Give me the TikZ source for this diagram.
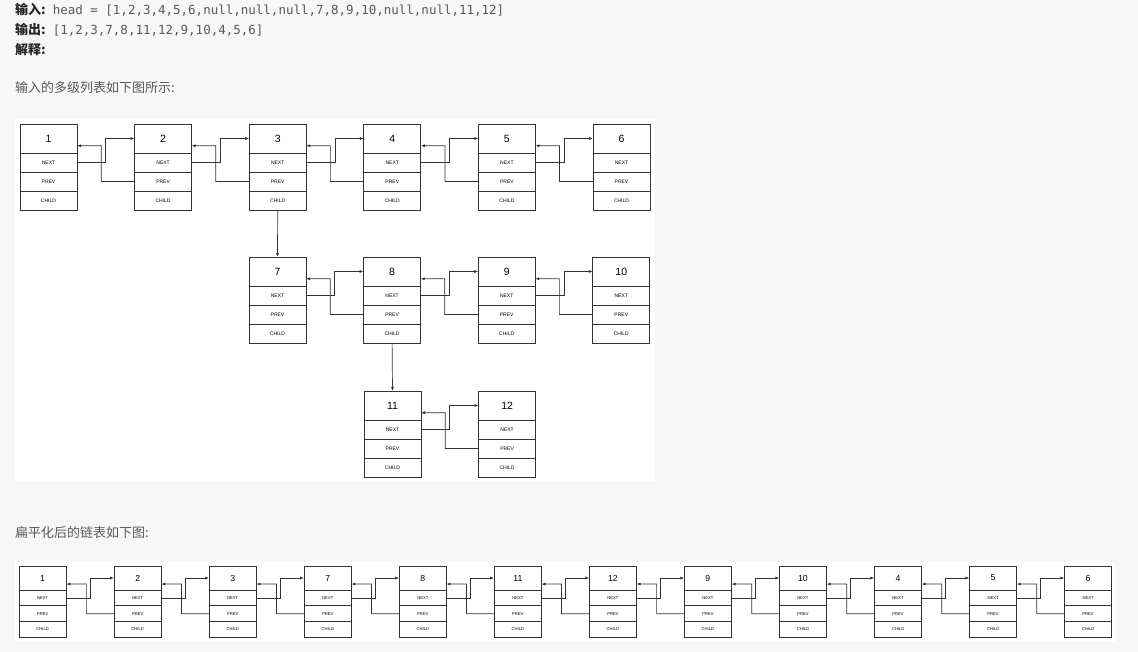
\documentclass[tikz,border=0pt]{standalone}
\usepackage{fontspec}
\setmainfont{Liberation Sans}
\setmonofont{DejaVu Sans Mono}
\newfontfamily\cjk{Noto Sans CJK SC}
\usetikzlibrary{positioning,calc,arrows.meta}

\definecolor{pagebg}{HTML}{F7F7F7}
\definecolor{textgray}{HTML}{595959}
\definecolor{textdark}{HTML}{262626}
\definecolor{cellline}{HTML}{333333}

\tikzset{
  headcell/.style={draw=cellline, line width=0.8pt, anchor=north west, minimum width=57pt,
    minimum height=29pt, inner sep=0pt, outer sep=0pt, font=\fontsize{10.5}{12}\selectfont},
  fieldcell/.style={draw=cellline, line width=0.8pt, minimum width=57pt,
    minimum height=19pt, inner sep=0pt, outer sep=0pt, font=\fontsize{5}{6}\selectfont},
  wire/.style={draw=cellline, line width=0.7pt, -{Latex[length=4pt,width=3pt]}},
  textline/.style={anchor=west, inner sep=0pt, font=\cjk\fontsize{13}{15}\selectfont},
}

% one list cell: header with value, then NEXT / PREV / CHILD
\newcommand{\lnode}[3]{%
  \node[headcell] (#1-h) at (#2) {#3};
  \node[fieldcell, below=0pt of #1-h] (#1-n) {NEXT};
  \node[fieldcell, below=0pt of #1-n] (#1-p) {PREV};
  \node[fieldcell, below=0pt of #1-p] (#1-c) {CHILD};
}

% next and prev links between two neighbouring cells
\newcommand{\linkcells}[2]{%
  \draw[wire] (#1-n.east) -- ($(#1-n.east)!0.5!(#2-n.west)$) |- (#2-h.west);
  \draw[wire] (#2-p.west) -- ($(#1-p.east)!0.42!(#2-p.west)$)
    |- ($(#1-h.north east)!0.75!(#1-h.south east)$);
}

\begin{document}
\begin{tikzpicture}[x=1pt, y=-1pt]
\fill[pagebg] (0,0) rectangle (1138,652);
\useasboundingbox (0,0) rectangle (1138,652);

% text
\node[textline] (in) at (15,9.5) {{\bfseries\color{textdark}输入:}\hspace{7pt}{\ttfamily\fontsize{12.5}{15}\selectfont\color{textgray}head = [1,2,3,4,5,6,null,null,null,7,8,9,10,null,null,11,12]}};
\node[textline] (out) at (15,29.5) {{\bfseries\color{textdark}输出:}\hspace{7pt}{\ttfamily\fontsize{12.5}{15}\selectfont\color{textgray}[1,2,3,7,8,11,12,9,10,4,5,6]}};
\node[textline] (expl) at (15,49.5) {\bfseries\color{textdark}解释:};
\node[textline, text=textgray] (cap1) at (15,88) {输入的多级列表如下图所示:};
\node[textline, text=textgray] (cap2) at (15,532.5) {扁平化后的链表如下图:};

% panels
\fill[white] (15,118) rectangle (655,482);
\fill[white] (15,561.5) rectangle (1115,641.5);

% multilevel list
\foreach \v [count=\i from 0] in {1,...,6} {\lnode{n\v}{20+114.6*\i,124}{\v}}
\foreach \v [count=\i from 0] in {7,...,10} {\lnode{n\v}{249+114.6*\i,257}{\v}}
\foreach \v [count=\i from 0] in {11,12} {\lnode{n\v}{364+114.6*\i,391}{\v}}

\foreach \a/\b in {1/2,2/3,3/4,4/5,5/6,7/8,8/9,9/10,11/12} {\linkcells{n\a}{n\b}}
\draw[wire] (n3-c.south) -- (n7-h.north);
\draw[wire] (n8-c.south) -- (n11-h.north);

% flattened list
\begin{scope}[shift={(19,566)}, scale=0.83, every node/.style={transform shape}]
\foreach \v [count=\i from 0] in {1,2,3,7,8,11,12,9,10,4,5,6} {\lnode{f\v}{114.5*\i,0}{\v}}
\foreach \a/\b in {1/2,2/3,3/7,7/8,8/11,11/12,12/9,9/10,10/4,4/5,5/6} {\linkcells{f\a}{f\b}}
\end{scope}
\end{tikzpicture}
\end{document}
